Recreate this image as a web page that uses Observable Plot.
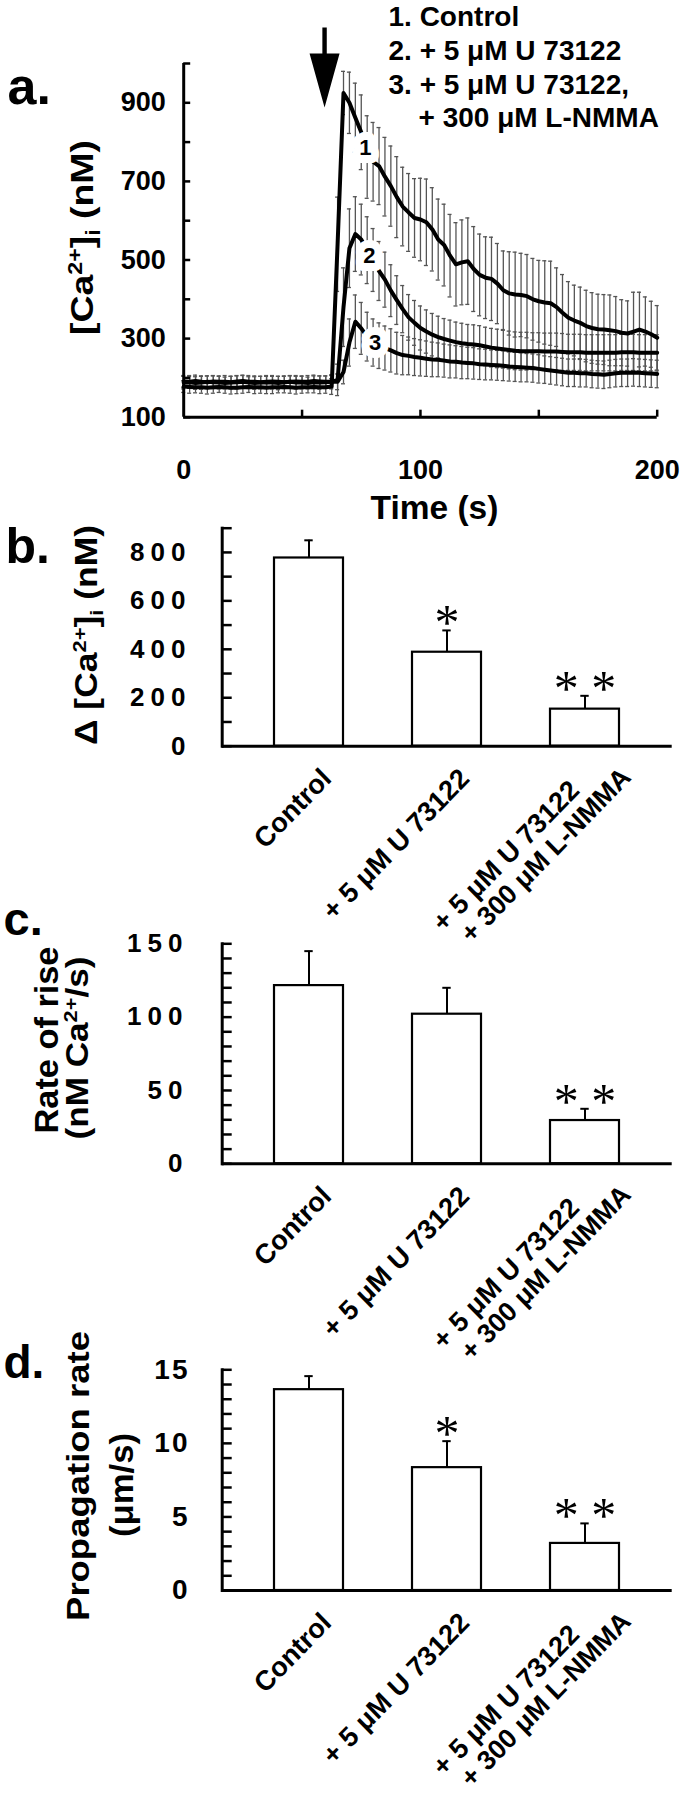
<!DOCTYPE html>
<html><head><meta charset="utf-8">
<script src="https://cdn.jsdelivr.net/npm/d3@7"></script>
<script src="https://cdn.jsdelivr.net/npm/@observablehq/plot@0.6"></script>
<style>
body{margin:0;background:#fff;}
#wrap{position:relative;width:680px;height:1800px;overflow:hidden;background:#fff;}
#wrap svg{position:absolute;left:0;overflow:visible;}
</style></head><body><div id="wrap"></div>
<script>
// ---------- Panel a: time course ----------
const timeS = [0,2.5,5,7.5,10,12.5,15,17.5,20,22.5,25,27.5,30,32.5,35,37.5,40,42.5,45,47.5,50,52.5,55,57.5,60,62.5,65,67.5,70,72.5,75,77.5,80,82.5,85,87.5,90,92.5,95,97.5,100,102.5,105,107.5,110,112.5,115,117.5,120,122.5,125,127.5,130,132.5,135,137.5,140,142.5,145,147.5,150,152.5,155,157.5,160,162.5,165,167.5,170,172.5,175,177.5,180,182.5,185,187.5,190,192.5,195,197.5,200];
const controlMean = [178,177,176,176,175,176,177,176,175,175,176,177,176,176,175,176,176,177,176,175,176,176,177,176,176,
 178,540,925,900,862,825,762,750,739,712,688,660,636,621,607,603,596,578,552,538,511,489,494,497,477,462,455,452,440,423,415,412,411,408,400,395,392,390,380,366,353,346,340,332,327,324,323,321,319,315,313,318,323,318,311,302];
const controlSE = [15,16,14,15,16,15,14,15,16,15,15,14,16,15,15,16,14,15,15,16,15,14,15,16,15,
 20,120,55,78,88,95,105,100,98,100,102,103,100,99,100,105,110,106,103,104,105,106,108,110,108,104,104,106,102,100,106,108,106,106,104,104,106,107,100,97,92,90,91,91,90,89,89,90,88,84,83,100,95,88,84,82];
const u73122Mean = [188,189,187,188,190,189,188,187,188,189,190,188,187,188,189,188,187,189,190,188,188,187,189,188,189,190,
 195,380,530,566,552,525,500,472,450,422,398,375,354,340,327,318,310,304,299,295,291,288,286,285,283,280,277,275,273,271,269,268,268,268,268,267,267,267,266,265,265,265,264,264,264,264,264,264,265,265,265,264,264,264,264];
const u73122SE = [16,15,16,17,15,16,16,15,16,17,16,15,16,16,15,16,17,16,15,16,16,15,16,17,16,18,
 40,100,100,95,90,85,80,75,70,66,62,60,58,57,56,55,54,53,52,52,51,51,50,50,50,49,49,49,48,48,48,48,48,47,47,47,47,47,47,46,46,46,46,46,46,46,46,46,46,46,46,46,46,46,46];
const lnmmaMean = [191,190,192,190,189,191,190,190,189,191,192,190,190,189,190,191,190,189,190,191,190,190,192,191,190,190,190,
 215,290,343,326,305,290,282,276,270,263,258,256,253,251,249,247,246,244,242,241,239,238,237,235,234,233,232,231,229,228,227,226,225,223,221,219,217,215,213,213,212,212,210,209,208,210,212,213,213,214,213,212,211,210];
const lnmmaSE = [15,16,15,14,16,15,15,16,15,14,15,16,15,15,16,15,14,15,16,15,15,16,15,14,15,16,20,
 30,60,68,66,62,60,58,56,55,53,50,48,47,46,45,44,43,42,42,41,41,40,40,39,39,38,38,38,37,37,37,36,36,36,35,35,35,35,35,35,35,35,35,35,35,35,35,35,35,35,35,35,35,35];
const seriesNames = ["1", "2", "3"];
const legendLines = ["1. Control", "2. + 5 μM U 73122", "3. + 5 μM U 73122,", "+ 300 μM L-NMMA"];
const curveLabelTime = [76.7, 78.4, 80.9];
const curveLabelValue = [786, 511, 290];
const stimulusTime = [59.5];
const aYLabelTicks = [100, 300, 500, 700, 900];
const aYTicks = [100, 200, 300, 400, 500, 600, 700, 800, 900, 1000];
const aXLabelTicks = [0, 100, 200];
const aXTicks = [50, 100, 150, 200];

// ---------- Panels b-d: bar charts ----------
const cats = ["Control", "+ 5 μM U 73122", "+ 5 μM U 73122 / + 300 μM L-NMMA"];
const catLine1 = ["Control", "+ 5 μM U 73122", "+ 5 μM U 73122"];
const catLine2 = ["", "", "+ 300 μM L-NMMA"];
const deltaCaMean = [777, 388, 153];
const deltaCaSE = [73, 90, 55];
const deltaCaSig = ["", "*", "* *"];
const riseMean = [121.5, 102, 29.5];
const riseSE = [23.5, 18, 8];
const riseSig = ["", "", "* *"];
const propMean = [13.65, 8.35, 3.2];
const propSE = [0.92, 1.8, 1.36];
const propSig = ["", "*", "* *"];
const bLabelTicks = [0, 200, 400, 600, 800];
const bTicks = [0,100,200,300,400,500,600,700,800,900];
const cLabelTicks = [0, 50, 100, 150];
const cTicks = [0,10,20,30,40,50,60,70,80,90,100,110,120,130,140,150];
const dLabelTicks = [0, 5, 10, 15];
const dTicks = [0,1,2,3,4,5,6,7,8,9,10,11,12,13,14,15];

// ---------- helpers ----------
const FONT = "Liberation Sans, Arial, sans-serif";
const STRETCH = 1.03; // slight vertical stretch of the scanned figure's rotated lettering
const wrap = document.getElementById("wrap");
const baseStyle = "font-family: 'Liberation Sans', Arial, sans-serif; font-weight: bold; background: transparent; overflow: visible; color: black;";
function place(svg, top) { svg.style.top = top + "px"; wrap.appendChild(svg); return d3.select(svg); }
function stretchRotated(sel) {
  sel.selectAll("text").each(function () {
    const tr = this.getAttribute("transform");
    if (tr && tr.includes("rotate(")) this.setAttribute("transform", tr.replace("rotate(", `scale(1,${STRETCH}) rotate(`));
  });
}
function yLabel(sel, top, {x, y, size, parts, length}) {
  const t = sel.append("text")
    .attr("transform", `translate(${x},${y - top}) rotate(-90)`)
    .attr("text-anchor", "middle")
    .style("font-family", "'Liberation Sans', Arial, sans-serif").style("font-size", size + "px").style("font-weight", "bold")
    .attr("fill", "black").style("white-space", "pre");
  let shift = 0;
  for (const p of parts) {
    const target = p.sup ? -0.36 * size : p.sub ? 0.2 * size : 0;
    const ts = t.append("tspan").text(p.t).attr("dy", target - shift);
    if (p.sup || p.sub) ts.style("font-size", (size * 0.62) + "px");
    shift = target;
  }
  const natural = t.node().getComputedTextLength();
  const s = length && natural > 0 ? length / natural : 1;
  t.attr("transform", `translate(${x},${y - top}) scale(1,${s}) rotate(-90)`);
  return t;
}

// ---------- Panel a ----------
const rowsA = [];
[[controlMean, controlSE], [u73122Mean, u73122SE], [lnmmaMean, lnmmaSE]].forEach(([m, e], k) => {
  timeS.forEach((t, i) => rowsA.push({s: seriesNames[k], t, v: m[i], e: e[i]}));
});
const curveLabels = seriesNames.map((s, i) => ({s, t: curveLabelTime[i], v: curveLabelValue[i]}));
const arrowShape = {
  draw(context) {
    context.moveTo(0, 0);
    context.lineTo(-15, -54);
    context.lineTo(-2.2, -54);
    context.lineTo(-2.2, -80);
    context.lineTo(2.2, -80);
    context.lineTo(2.2, -54);
    context.lineTo(15, -54);
    context.closePath();
  }
};
const topA = 0, mtA = 63, mlA = 183.2;
const T = {fontFamily: FONT, fontWeight: "bold"};
const EB = "#555";
const plotA = Plot.plot({
  width: 680, height: 530,
  marginTop: mtA, marginBottom: 113.3, marginLeft: mlA, marginRight: 23.3,
  x: {domain: [0, 200], axis: null},
  y: {domain: [100, 1000], axis: null},
  style: baseStyle,
  marks: [
    Plot.ruleX(rowsA, {x: "t", y1: d => d.v - d.e, y2: d => d.v + d.e, stroke: EB, strokeWidth: 1.3}),
    Plot.ruleY(rowsA, {y: d => d.v + d.e, x1: d => d.t - 0.85, x2: d => d.t + 0.85, stroke: EB, strokeWidth: 1.3}),
    Plot.ruleY(rowsA, {y: d => d.v - d.e, x1: d => d.t - 0.85, x2: d => d.t + 0.85, stroke: EB, strokeWidth: 1.3}),
    Plot.line(rowsA, {x: "t", y: "v", z: "s", stroke: "black", strokeWidth: 4, strokeLinejoin: "round"}),
    Plot.text(curveLabels, {x: "t", y: "v", text: "s", fill: "black", stroke: "white", strokeWidth: 16, strokeLinejoin: "round", paintOrder: "stroke", fontSize: 22, ...T}),
    Plot.ruleX([0], {stroke: "black", strokeWidth: 3}),
    Plot.ruleY([100], {stroke: "black", strokeWidth: 3}),
    Plot.axisY({ticks: aYLabelTicks, tickSize: 0, tickPadding: 18, fontSize: 27, ...T, label: null}),
    Plot.axisY({ticks: aYTicks, tickSize: 7, dx: 7, tickFormat: () => "", strokeWidth: 2.5, label: null}),
    Plot.axisX({ticks: aXLabelTicks, tickSize: 0, tickPadding: 43, fontSize: 27, ...T, label: null}),
    Plot.axisX({ticks: aXTicks, tickSize: 7, dy: -7, tickFormat: () => "", strokeWidth: 2.5, label: null}),
    Plot.vector(stimulusTime, {x: d => d, frameAnchor: "top", dy: 44, length: 80, anchor: "start", shape: arrowShape, fill: "black", stroke: "none"}),
    Plot.text([legendLines.slice(0, 3).join("\n")], {frameAnchor: "top-left", dx: 388 - mlA, dy: 93 - mtA, lineAnchor: "bottom", lineHeight: 34 / 28, textAnchor: "start", fontSize: 28, ...T}),
    Plot.text([legendLines[3]], {frameAnchor: "top-left", dx: 418 - mlA, dy: 126 - mtA, lineAnchor: "bottom", textAnchor: "start", fontSize: 28, ...T}),
    Plot.text(["Time (s)"], {frameAnchor: "bottom", dx: 14, dy: 101.3, lineAnchor: "bottom", fontSize: 33.5, ...T}),
    Plot.text(["a."], {frameAnchor: "top-left", dx: 7 - mlA, dy: 103 - mtA, lineAnchor: "bottom", textAnchor: "start", fontSize: 52, ...T})
  ]
});
const selA = place(plotA, topA);
yLabel(selA, topA, {x: 93.4, y: 237.5, size: 32, length: 195, parts: [{t: "[Ca"}, {t: "2+", sup: true}, {t: "]"}, {t: "i", sub: true}, {t: " (nM)"}]});

// ---------- bar panels ----------
const ML = 221.7;
function barRows(mean, se, sig) {
  return cats.map((c, i) => ({cat: c, line1: catLine1[i], line2: catLine2[i], mean: mean[i], se: se[i], sig: sig[i]}));
}
function barPanel({rows, yDomain, labelTicks, minorTicks, height, marginTop, marginBottom, tickPadding, tickFont, letter, letterX, letterBase, letterSize, top}) {
  const frameTop = top + marginTop;
  return Plot.plot({
    width: 680, height, marginTop, marginBottom, marginLeft: ML, marginRight: 8.3,
    x: {domain: cats, paddingInner: 0.5, paddingOuter: 0.38, axis: null},
    y: {domain: yDomain, axis: null},
    style: baseStyle,
    marks: [
      Plot.barY(rows, {x: "cat", y: "mean", fill: "white", stroke: "black", strokeWidth: 2.2}),
      Plot.ruleX(rows, {x: "cat", y1: "mean", y2: d => d.mean + d.se, stroke: "black", strokeWidth: 2}),
      Plot.tickY(rows, {x: "cat", y: d => d.mean + d.se, inset: 30.3, stroke: "black", strokeWidth: 2}),
      Plot.text(rows.filter(d => d.sig), {x: "cat", y: d => d.mean + d.se, text: "sig", dy: 9, lineAnchor: "bottom", fontSize: 50, fontFamily: "Liberation Serif", fontWeight: "normal"}),
      Plot.ruleY([yDomain[0]], {stroke: "black", strokeWidth: 3}),
      Plot.frame({anchor: "left", stroke: "black", strokeWidth: 3}),
      Plot.axisY({ticks: labelTicks, tickSize: 0, tickPadding, fontSize: tickFont, ...T, label: null}),
      Plot.axisY({ticks: minorTicks, tickSize: 10, dx: 10, tickFormat: () => "", strokeWidth: 2.5, label: null}),
      Plot.text(rows.filter(d => !d.line2), {x: "cat", frameAnchor: "bottom", text: "line1", rotate: -45, textAnchor: "end", lineAnchor: "bottom", dx: 23.8, dy: 33.9, fontSize: 27, ...T}),
      Plot.text(rows.filter(d => d.line2), {x: "cat", frameAnchor: "bottom", text: "line1", rotate: -45, textAnchor: "end", lineAnchor: "bottom", dx: -4.2, dy: 45.6, fontSize: 27, ...T}),
      Plot.text(rows.filter(d => d.line2), {x: "cat", frameAnchor: "bottom", text: "line2", rotate: -45, textAnchor: "end", lineAnchor: "bottom", dx: 47.4, dy: 32.5, fontSize: 26.5, ...T}),
      Plot.text([letter], {frameAnchor: "top-left", dx: letterX - ML, dy: letterBase - frameTop, lineAnchor: "bottom", textAnchor: "start", fontSize: letterSize, ...T})
    ]
  });
}

// b
const topB = 520;
const plotB = barPanel({rows: barRows(deltaCaMean, deltaCaSE, deltaCaSig), yDomain: [0, 900], labelTicks: bLabelTicks, minorTicks: bTicks,
  height: 400, marginTop: 7.7, marginBottom: 174.3, tickPadding: 30.7, tickFont: 26, letter: "b.", letterX: 5, letterBase: 562, letterSize: 50, top: topB});
const selB = place(plotB, topB);
stretchRotated(selB);
selB.selectAll('g[aria-label="y-axis tick label"] text').attr("letter-spacing", "6px");
yLabel(selB, topB, {x: 97, y: 635, size: 31, length: 220, parts: [{t: "Δ [Ca"}, {t: "2+", sup: true}, {t: "]"}, {t: "i", sub: true}, {t: " (nM)"}]});

// c
const topC = 900;
const plotC = barPanel({rows: barRows(riseMean, riseSE, riseSig), yDomain: [0, 150], labelTicks: cLabelTicks, minorTicks: cTicks,
  height: 450, marginTop: 43.3, marginBottom: 186.7, tickPadding: 33.7, tickFont: 26, letter: "c.", letterX: 3, letterBase: 934, letterSize: 47, top: topC});
const selC = place(plotC, topC);
stretchRotated(selC);
selC.selectAll('g[aria-label="y-axis tick label"] text').attr("letter-spacing", "6px");
yLabel(selC, topC, {x: 58, y: 1040, size: 33, length: 187, parts: [{t: "Rate of rise"}]});
yLabel(selC, topC, {x: 88, y: 1048, size: 31, length: 183, parts: [{t: "(nM Ca"}, {t: "2+", sup: true}, {t: "/s)"}]});

// d
const topD = 1340;
const plotD = barPanel({rows: barRows(propMean, propSE, propSig), yDomain: [0, 15], labelTicks: dLabelTicks, minorTicks: dTicks,
  height: 460, marginTop: 29.3, marginBottom: 210, tickPadding: 32.7, tickFont: 28, letter: "d.", letterX: 3, letterBase: 1377, letterSize: 46, top: topD});
const selD = place(plotD, topD);
stretchRotated(selD);
selD.selectAll('g[aria-label="y-axis tick label"] text').attr("letter-spacing", "2px");
yLabel(selD, topD, {x: 88.5, y: 1476, size: 32, length: 290, parts: [{t: "Propagation rate"}]});
yLabel(selD, topD, {x: 132.5, y: 1485, size: 34, length: 104, parts: [{t: "(μm/s)"}]});
</script>
</body></html>
